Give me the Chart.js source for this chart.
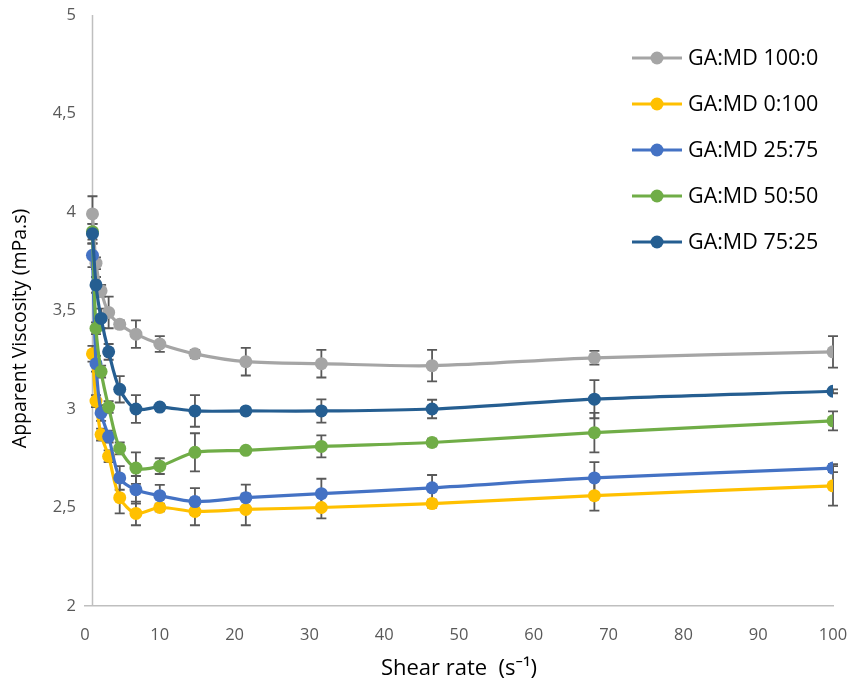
<!DOCTYPE html>
<html>
<head>
<meta charset="utf-8">
<script src="https://cdn.jsdelivr.net/npm/chart.js@4.4.1/dist/chart.umd.min.js"></script>
<style>
  html, body { margin: 0; padding: 0; background: #fff; }
  #wrap { width: 852px; height: 691px; position: relative; }
</style>
</head>
<body>
<div id="wrap"><canvas id="c" width="852" height="691"></canvas></div>
<script>
const shearRate = [1, 1.47, 2.15, 3.16, 4.64, 6.81, 10, 14.7, 21.5, 31.6, 46.4, 68.1, 100];

const labels = ["GA:MD 100:0", "GA:MD 0:100", "GA:MD 25:75", "GA:MD 50:50", "GA:MD 75:25"];

const visc100_0 = [3.99, 3.74, 3.60, 3.49, 3.43, 3.38, 3.33, 3.28, 3.24, 3.23, 3.22, 3.26, 3.29];
const err100_0  = [0.09, 0.03, 0.03, 0.08, 0.02, 0.07, 0.04, 0.02, 0.07, 0.07, 0.08, 0.035, 0.08];

const visc0_100 = [3.28, 3.04, 2.87, 2.76, 2.55, 2.47, 2.50, 2.48, 2.49, 2.50, 2.52, 2.56, 2.61];
const err0_100  = [0.04, 0.03, 0.03, 0.03, 0.08, 0.06, 0.02, 0.07, 0.08, 0.055, 0.02, 0.076, 0.10];

const visc25_75 = [3.78, 3.23, 2.98, 2.86, 2.65, 2.59, 2.56, 2.53, 2.55, 2.57, 2.60, 2.65, 2.70];
const err25_75  = [0.06, 0.04, 0.04, 0.03, 0.06, 0.07, 0.055, 0.068, 0.066, 0.076, 0.065, 0.08, 0.02];

const visc50_50 = [3.90, 3.41, 3.19, 3.01, 2.80, 2.70, 2.71, 2.78, 2.79, 2.81, 2.83, 2.88, 2.94];
const err50_50  = [0.04, 0.03, 0.03, 0.03, 0.03, 0.08, 0.04, 0.097, 0.01, 0.056, 0.02, 0.10, 0.048];

const visc75_25 = [3.89, 3.63, 3.46, 3.29, 3.10, 3.00, 3.01, 2.99, 2.99, 2.99, 3.00, 3.05, 3.09];
const err75_25  = [0.05, 0.04, 0.05, 0.04, 0.067, 0.07, 0.01, 0.08, 0.015, 0.059, 0.047, 0.097, 0.01];

const yTitle = "Apparent Viscosity (mPa.s)";
const xTitle = "Shear rate  (s\u207B\u00B9)";

const colors = ["#A5A5A5", "#FFC000", "#4472C4", "#70AD47", "#255E91"];
const seriesValues = [visc100_0, visc0_100, visc25_75, visc50_50, visc75_25];
const seriesErrors = [err100_0, err0_100, err25_75, err50_50, err75_25];

const FONT = "'Open Sans', 'Noto Sans', sans-serif";

const datasets = seriesValues.map((vals, i) => ({
  label: labels[i],
  data: shearRate.map((x, j) => ({ x: x, y: vals[j] })),
  borderColor: colors[i],
  backgroundColor: colors[i],
  pointBackgroundColor: colors[i],
  pointBorderColor: colors[i],
  pointRadius: 6.5,
  pointBorderWidth: 0,
  borderWidth: 3.2,
  tension: 0.3,
  order: 5 - i,
  errors: seriesErrors[i]
}));

const errorBars = {
  id: 'errorBars',
  beforeDatasetsDraw(chart) {
    const ctx = chart.ctx;
    const xs = chart.scales.x, ys = chart.scales.y;
    ctx.save();
    ctx.strokeStyle = "#595959";
    ctx.lineWidth = 1.8;
    chart.data.datasets.forEach(ds => {
      ds.data.forEach((p, j) => {
        const e = ds.errors[j];
        if (!e) return;
        const px = xs.getPixelForValue(p.x);
        const top = ys.getPixelForValue(p.y + e);
        const bot = ys.getPixelForValue(p.y - e);
        ctx.beginPath();
        ctx.moveTo(px, top); ctx.lineTo(px, bot);
        ctx.moveTo(px - 5, top); ctx.lineTo(px + 5, top);
        ctx.moveTo(px - 5, bot); ctx.lineTo(px + 5, bot);
        ctx.stroke();
      });
    });
    ctx.restore();
  }
};

const crossAxis = {
  id: 'crossAxis',
  beforeDatasetsDraw(chart) {
    const ctx = chart.ctx;
    const xs = chart.scales.x, ys = chart.scales.y;
    const px = Math.round(xs.getPixelForValue(1)) + 0.5;
    ctx.save();
    ctx.strokeStyle = "#BFBFBF";
    ctx.lineWidth = 1.5;
    ctx.beginPath();
    ctx.moveTo(px, ys.getPixelForValue(5));
    ctx.lineTo(px, ys.getPixelForValue(2));
    ctx.stroke();
    ctx.restore();
  }
};

const yTitlePlugin = {
  id: 'yTitlePlugin',
  afterDraw(chart) {
    const ctx = chart.ctx;
    const area = chart.chartArea;
    ctx.save();
    ctx.translate(20, (area.top + area.bottom) / 2 + 18);
    ctx.rotate(-Math.PI / 2);
    ctx.font = "19.5px " + FONT;
    ctx.fillStyle = "#000";
    ctx.textAlign = "center";
    ctx.textBaseline = "middle";
    ctx.fillText(yTitle, 0, 0);
    ctx.restore();
  }
};

const customLegend = {
  id: 'customLegend',
  afterDraw(chart) {
    const ctx = chart.ctx;
    const area = chart.chartArea;
    ctx.save();
    ctx.font = "21.5px " + FONT;
    ctx.textBaseline = "middle";
    ctx.textAlign = "left";
    chart.data.datasets.forEach((ds, i) => {
      const y = area.top + 43 + i * 46;
      const x0 = area.right - 201;
      ctx.strokeStyle = ds.borderColor;
      ctx.lineWidth = 3.2;
      ctx.beginPath();
      ctx.moveTo(x0, y); ctx.lineTo(x0 + 50, y);
      ctx.stroke();
      ctx.fillStyle = ds.borderColor;
      ctx.beginPath();
      ctx.arc(x0 + 25, y, 6.5, 0, Math.PI * 2);
      ctx.fill();
      ctx.fillStyle = "#000";
      ctx.fillText(ds.label, x0 + 56, y + 1);
    });
    ctx.restore();
  }
};

new Chart(document.getElementById('c'), {
  type: 'line',
  data: { datasets: datasets },
  options: {
    responsive: false,
    animation: false,
    events: [],
    layout: { padding: { left: 0, right: 19, top: 15, bottom: 0 } },
    plugins: {
      legend: { display: false },
      tooltip: { enabled: false }
    },
    scales: {
      x: {
        type: 'linear',
        min: 0, max: 100,
        grid: { display: false, drawTicks: false },
        border: { display: true, color: "#BFBFBF", width: 1.5 },
        ticks: {
          stepSize: 10,
          padding: 19,
          color: "#595959",
          font: { family: FONT, size: 16.5 }
        },
        title: {
          display: true,
          text: xTitle,
          color: "#000",
          font: { family: FONT, size: 22 },
          padding: { top: 4, bottom: 9 }
        },
        afterFit(scale) {
          scale.height = 85;
          scale.paddingRight = 0;
          scale.paddingLeft = 0;
        }
      },
      y: {
        type: 'linear',
        min: 2, max: 5,
        grid: { display: false, drawTicks: false },
        border: { display: false },
        ticks: {
          stepSize: 0.5,
          padding: 9,
          color: "#595959",
          font: { family: FONT, size: 16.5 },
          callback: v => String(v).replace('.', ',')
        },
        title: { display: false },
        afterFit(scale) {
          scale.width = 85;
          scale.paddingTop = 0;
          scale.paddingBottom = 0;
        }
      }
    }
  },
  plugins: [crossAxis, errorBars, yTitlePlugin, customLegend]
});
</script>
</body>
</html>
